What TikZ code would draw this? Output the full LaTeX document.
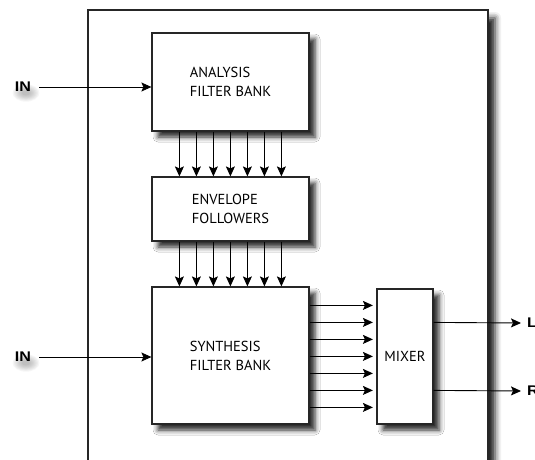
\documentclass[tikz,border=0pt]{standalone}
\usepackage{fontspec}
\setmainfont{PT Sans}
\newfontfamily\labelfont{Liberation Sans}
\usetikzlibrary{arrows.meta,shadows.blur}
\begin{document}
\begin{tikzpicture}[x=1pt,y=-1pt,
  frame/.style={draw=black!85, line width=1.4pt, fill=white, inner sep=0pt,
    blur shadow={shadow xshift=7pt, shadow yshift=-8pt, shadow blur radius=6pt, shadow opacity=90}},
  box/.style={draw=black!85, line width=1.2pt, fill=white, inner sep=0pt,
    font=\fontsize{14.5}{19}\selectfont, align=left,
    blur shadow={shadow xshift=6pt, shadow yshift=-6pt, shadow blur radius=5pt, shadow opacity=85}},
  arr/.style={line width=0.9pt, -{Stealth[length=10pt,width=9pt,inset=2pt]}},
  io/.style={font=\labelfont\bfseries\fontsize{14}{14}\selectfont, inner sep=0pt, xscale=1.15},
  blob/.style={fill=black, opacity=0.035}]
\useasboundingbox (0,0) rectangle (535,460);
\clip (0,0) rectangle (535,460);
\node[frame, minimum width=400pt, minimum height=470pt] (frame) at (288,245) {};
\node[box, minimum width=157pt, minimum height=98pt] (ana) at (230.5,82) {ANALYSIS\\FILTER BANK};
\node[box, minimum width=157pt, minimum height=64pt] (env) at (230.5,209) {ENVELOPE\\FOLLOWERS};
\node[box, minimum width=157pt, minimum height=137pt] (syn) at (230.5,355.5) {SYNTHESIS\\FILTER BANK};
\node[box, minimum width=56pt, minimum height=135pt] (mix) at (405,356.5) {MIXER};
% soft shadows under the IN labels
\foreach \r in {1,...,8}{
  \fill[blob] (26,93) ellipse ({3+1.3*\r} and {1.5+0.9*\r});
  \fill[blob] (26,363) ellipse ({3+1.3*\r} and {1.5+0.9*\r});
}
\node[io] (in1) at (23,87) {IN};
\node[io] (in2) at (23,357) {IN};
\coordinate (in1s) at (39,87);
\coordinate (in2s) at (39,357);
\draw[arr] (in1s) -- (in1s -| ana.west);
\draw[arr] (in2s) -- (in2s -| syn.west);
% analysis -> envelope -> synthesis
\foreach \i in {0,...,6}{
  \draw[arr] ([xshift={28+17*\i}]ana.south west) -- ([xshift={28+17*\i}]env.north west);
  \draw[arr] ([xshift={28+17*\i}]env.south west) -- ([xshift={28+17*\i}]syn.north west);
  \path ([yshift={-(19+17*\i)}]syn.north east) coordinate (s\i);
  \draw[arr, shorten >=3.5pt] (s\i) -- (s\i -| mix.west);
}
% outputs
\path ([yshift=-34pt]mix.north east) coordinate (oL);
\path ([yshift=-102pt]mix.north east) coordinate (oR);
\node[io, anchor=west] (L) at (527,323) {L};
\node[io, anchor=west] (R) at (527,391) {R};
\draw[arr] (oL) -- ([xshift=-6pt]L.west);
\draw[arr] (oR) -- ([xshift=-6pt]R.west);
\end{tikzpicture}
\end{document}
